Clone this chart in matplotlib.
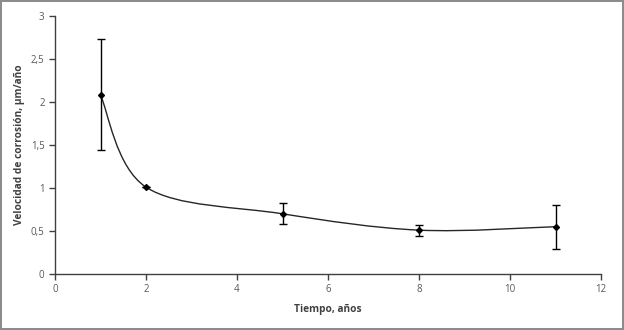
import numpy as np
import matplotlib.pyplot as plt
from matplotlib.path import Path
from matplotlib.patches import PathPatch
from matplotlib.ticker import FuncFormatter

# data
tiempo = [1, 2, 5, 8, 11]
velocidad = [2.08, 1.01, 0.70, 0.51, 0.55]
err_sup = [2.73, 1.01, 0.82, 0.575, 0.805]
err_inf = [1.445, 1.01, 0.585, 0.445, 0.295]

plt.rcParams['font.family'] = ['Open Sans', 'DejaVu Sans']

fig = plt.figure(figsize=(6.24, 3.3), dpi=100, linewidth=1.5, edgecolor='#8c8c8c')
ax = fig.add_axes([55/624, 56/330, 546/624, 258/330])

x = np.array(tiempo, dtype=float)
y = np.array(velocidad, dtype=float)

# smoothed line like Excel (Catmull-Rom style bezier through the points)
verts = [(x[0], y[0])]
codes = [Path.MOVETO]
n = len(x)
for i in range(n - 1):
    p0 = (x[i-1], y[i-1]) if i > 0 else (x[i], y[i])
    p1 = (x[i], y[i])
    p2 = (x[i+1], y[i+1])
    p3 = (x[i+2], y[i+2]) if i + 2 < n else (x[i+1], y[i+1])
    c1 = (p1[0] + (p2[0] - p0[0]) / 6, p1[1] + (p2[1] - p0[1]) / 6)
    c2 = (p2[0] - (p3[0] - p1[0]) / 6, p2[1] - (p3[1] - p1[1]) / 6)
    verts += [c1, c2, p2]
    codes += [Path.CURVE4] * 3
ax.add_patch(PathPatch(Path(verts, codes), facecolor='none', edgecolor='#262626', lw=1.0))

yerr = [y - np.array(err_inf), np.array(err_sup) - y]
ax.errorbar(x, y, yerr=yerr, fmt='D', color='black', markersize=3,
            ecolor='black', elinewidth=1.0, capsize=3, capthick=1.0)

ax.set_xlim(0, 12)
ax.set_ylim(0, 3)
ax.set_xticks(range(0, 13, 2))
ax.set_yticks(np.arange(0, 3.01, 0.5))
ax.yaxis.set_major_formatter(FuncFormatter(lambda v, p: ('%g' % v).replace('.', ',')))

for s in ['top', 'right']:
    ax.spines[s].set_visible(False)
for s in ['left', 'bottom']:
    ax.spines[s].set_color('#404040')
    ax.spines[s].set_linewidth(1.0)
ax.tick_params(direction='out', length=4, width=1, color='#404040',
               labelsize=7, labelcolor='#595959')

ax.set_xlabel('Tiempo, años', fontsize=7.3, fontweight='bold', color='#404040', labelpad=6)
ax.set_ylabel('Velocidad de corrosión, µm/año', fontsize=7.3, fontweight='bold', color='#404040', labelpad=4)

fig.savefig('out.png', dpi=100)
